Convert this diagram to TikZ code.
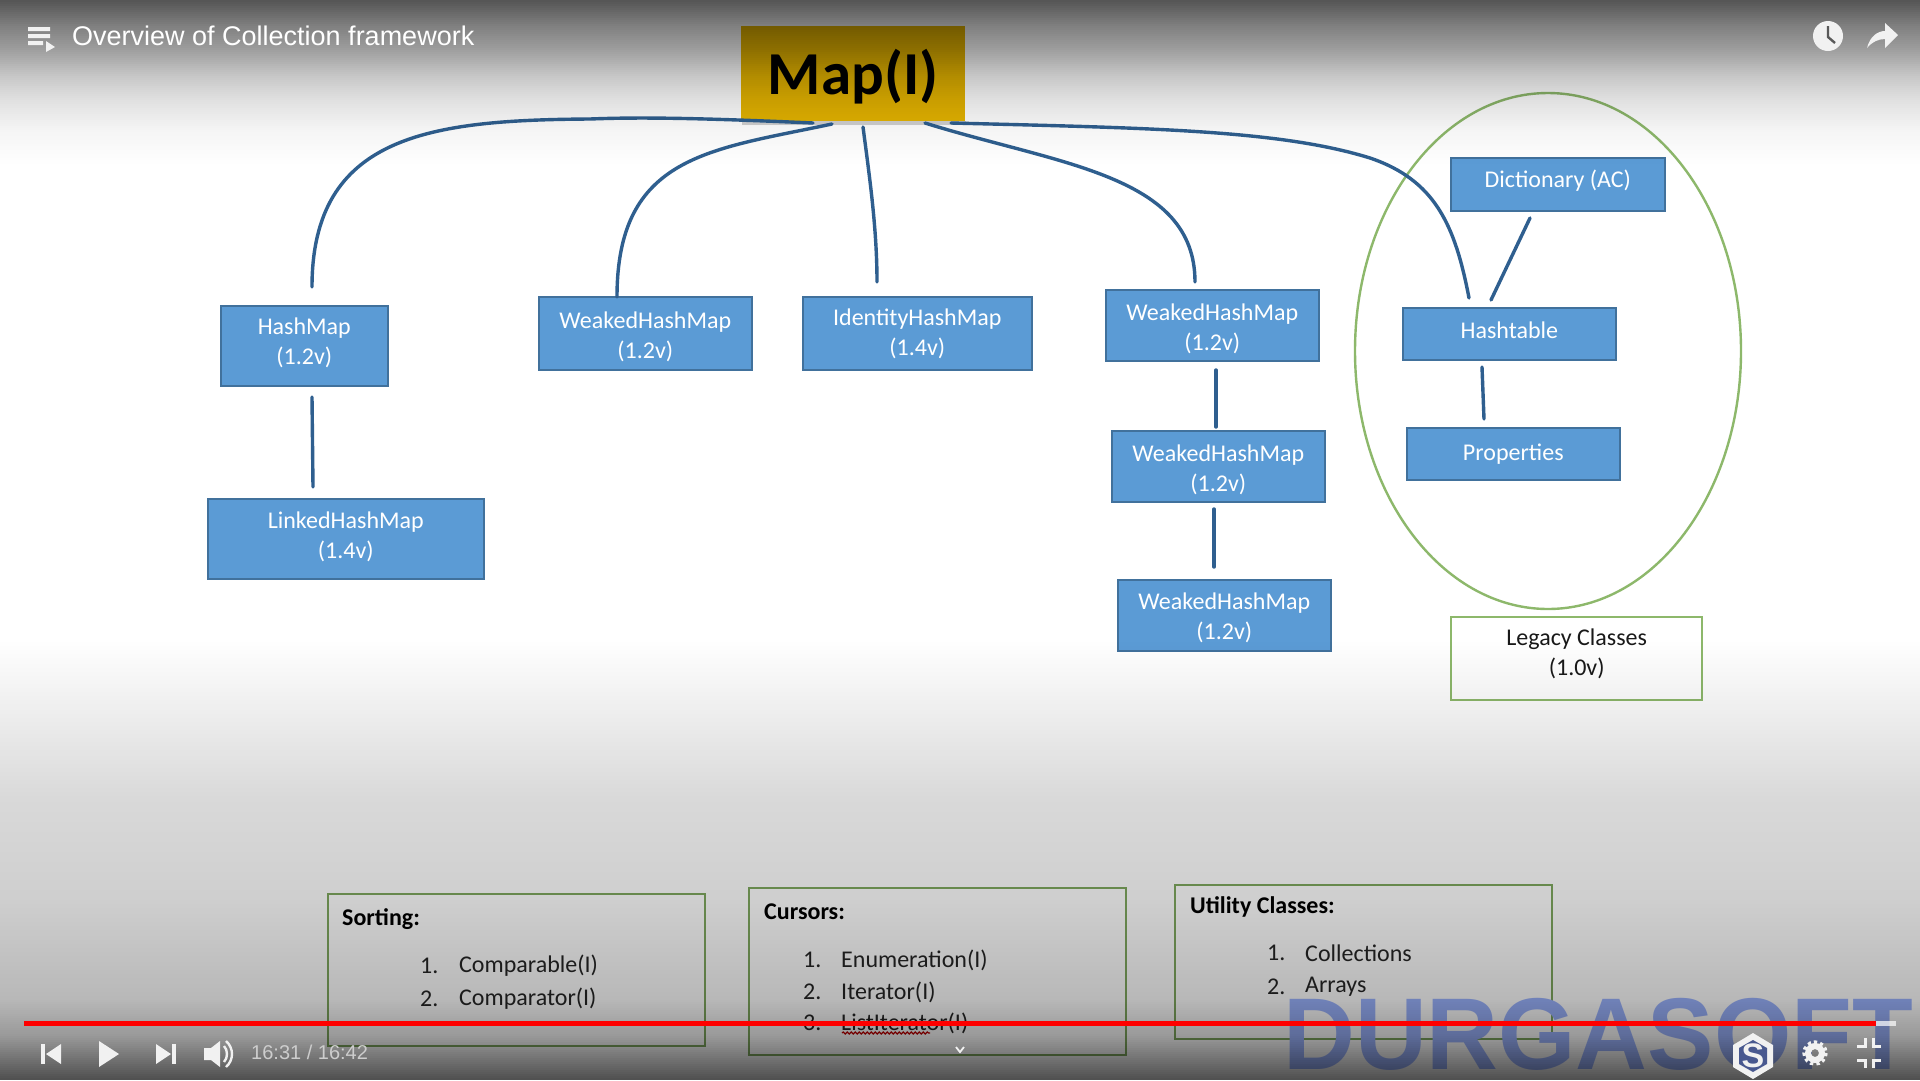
\documentclass[tikz,border=0pt]{standalone}
\usepackage{fontspec}
\setmainfont{Carlito}
\newfontfamily\arialfont{Liberation Sans}
\usetikzlibrary{decorations.pathmorphing}
\definecolor{boxblue}{HTML}{5B9BD5}
\definecolor{boxedge}{HTML}{41719C}
\definecolor{linkblue}{HTML}{2F5F8F}
\definecolor{legacygreen}{HTML}{8DB86B}
\definecolor{panelgreen}{HTML}{7FA85F}
\definecolor{wmblue}{HTML}{9CB4FF}
\definecolor{logoblue}{HTML}{48588F}
\definecolor{iconwhite}{HTML}{F1F1F1}
\definecolor{mapgold}{HTML}{E5B400}
\tikzset{
 blue box/.style={draw=boxedge,line width=1.6pt,fill=boxblue,inner sep=0pt,anchor=north west},
 box text/.style={text=white,align=center,inner sep=0pt,font=\fontsize{24}{30}\selectfont},
 link/.style={draw=linkblue,line width=3.4pt,line cap=round},
 legacy/.style={draw=legacygreen,line width=2.4pt},
 panel/.style={draw=panelgreen,line width=2.4pt,inner sep=0pt,anchor=north west},
 panel text/.style={text=black!85,anchor=west,inner sep=0pt,font=\fontsize{24}{30}\selectfont},
 panel head/.style={text=black,anchor=west,inner sep=0pt,font=\fontsize{24}{30}\selectfont\bfseries},
 ui/.style={fill=iconwhite,draw=none},
 ui line/.style={draw=iconwhite,line width=3pt}
}
\newcommand{\bbox}[7]{\node[blue box,minimum width=#4pt,minimum height=#5pt] (#1) at (#2,#3) {};
 \node[box text,yshift=-#7pt] (#1text) at (#1.center) {#6};}
\newcommand{\ovstrip}[4]{%
 \pgfmathtruncatemacro{\ysec}{#1+2}\pgfmathtruncatemacro{\ylast}{#2-2}%
 \foreach \yy in {#1,\ysec,...,\ylast}{%
  \pgfmathsetmacro{\aop}{#3+(#4-#3)*(\yy+1-#1)/(#2-#1)}%
  \fill[black,fill opacity=\aop] (0,\yy) rectangle (1920,\yy+2);}}
\begin{document}
\begin{tikzpicture}[x=1pt,y=-1pt]
\useasboundingbox (0,0) rectangle (1920,1080);
\fill[white] (0,0) rectangle (1920,1080);
% legacy group
\draw[legacy] (1548,351) ellipse [x radius=193,y radius=258];
% boxes
\bbox{hashmap}{220}{305}{167}{80}{HashMap\\(1.2v)}{-2.5}
\bbox{linked}{207}{498}{276}{80}{LinkedHashMap\\(1.4v)}{-2}
\bbox{weakA}{538}{296}{213}{73}{WeakedHashMap\\(1.2v)}{3.5}
\bbox{identity}{802}{296}{229}{73}{IdentityHashMap\\(1.4v)}{1}
\bbox{weakB}{1105}{289}{213}{71}{WeakedHashMap\\(1.2v)}{3.5}
\bbox{weakC}{1111}{430}{213}{71}{WeakedHashMap\\(1.2v)}{3.5}
\bbox{weakD}{1117}{579}{213}{71}{WeakedHashMap\\(1.2v)}{2.5}
\bbox{dict}{1450}{157}{214}{53}{Dictionary (AC)}{-3.5}
\bbox{hasht}{1402}{307}{213}{52}{Hashtable}{-3.5}
\bbox{props}{1406}{427}{213}{52}{Properties}{0}
\fill[black,opacity=.18] (742,121) rectangle (966,125);
\node[fill=mapgold,anchor=north west,inner sep=0pt,minimum width=224pt,minimum height=95pt] (map) at (741,26) {};
\node[inner sep=0pt,yshift=-2.5pt,font=\fontsize{61}{70}\selectfont\bfseries,text=black] (maptext) at (map.center) {Map(I)};
\node[legacy,anchor=north west,inner sep=0pt,minimum width=251pt,minimum height=83pt] (legacybox) at (1450,616) {};
\node[box text,text=black!90,yshift=5pt] (legacytext) at (legacybox.center) {Legacy Classes\\(1.0v)};
% connector ends
\coordinate (a1) at (813,123); \coordinate (a2) at (312,287);
\coordinate (b1) at (832,124); \coordinate (b2) at (617,297);
\coordinate (c1) at (863,127); \coordinate (c2) at (877,282);
\coordinate (d1) at (925,123); \coordinate (d2) at (1195,282);
\coordinate (e1) at (951,123); \coordinate (e2) at (1469,298);
\coordinate (f1) at (1530,218); \coordinate (f2) at (1491,300);
\coordinate (g1) at (1482,367); \coordinate (g2) at (1484,419);
\coordinate (h1) at (312,397); \coordinate (h2) at (313,487);
\coordinate (i1) at (1216,370); \coordinate (i2) at (1216,427);
\coordinate (j1) at (1214,509); \coordinate (j2) at (1214,567);
\draw[link] (a1) .. controls (700,118) and (640,117) .. (590,119) .. controls (430,120) and (312,135) .. (a2);
\draw[link] (b1) .. controls (710,150) and (617,155) .. (b2);
\draw[link] (c1) .. controls (870,180) and (877,230) .. (c2);
\draw[link] (d1) .. controls (1060,165) and (1195,175) .. (d2);
\draw[link] (e1) .. controls (1150,128) and (1280,130) .. (1370,158) .. controls (1435,180) and (1455,225) .. (e2);
\draw[link] (f1) -- (f2);
\draw[link] (g1) -- (g2);
\draw[link] (h1) -- (h2);
\draw[link] (i1) -- (i2);
\draw[link] (j1) -- (j2);
% bottom panels
\node[panel,minimum width=377pt,minimum height=152pt] (sorting) at (327,893) {};
\node[panel,minimum width=377pt,minimum height=167pt] (cursors) at (748,887) {};
\node[panel,minimum width=377pt,minimum height=154pt] (utility) at (1174,884) {};
\node[panel head] (sh) at (342,919) {Sorting:};
\node[panel text] (s1n) at (420,966) {1.};
\node[panel text] (s1) at (459,966) {Comparable(I)};
\node[panel text] (s2n) at (420,999) {2.};
\node[panel text] (s2) at (459,999) {Comparator(I)};
\node[panel head] (ch) at (764,912) {Cursors:};
\node[panel text] (c1n) at (803,960) {1.};
\node[panel text] (c1t) at (841,960) {Enumeration(I)};
\node[panel text] (c2n) at (803,992) {2.};
\node[panel text] (c2t) at (841,992) {Iterator(I)};
\node[panel text] (c3n) at (803,1023) {3.};
\node[panel text] (c3t) at (841,1023) {ListIterator(I)};
\draw[red!75!black,line width=1.2pt,decorate,decoration={snake,amplitude=1pt,segment length=4pt}] (842,1033) -- (930,1033);
\node[panel head] (uh) at (1190,907) {Utility Classes:};
\node[panel text] (u1n) at (1267,953) {1.};
\node[panel text] (u1) at (1305,953) {Collections};
\node[panel text] (u2n) at (1267,987) {2.};
\node[panel text] (u2) at (1305,987) {Arrays};
% watermark
\node[anchor=west,inner sep=0pt,text=wmblue,xscale=.975,font=\fontsize{102}{102}\selectfont\bfseries\arialfont] (wm) at (1283,1034) {DURGASOFT};
% video overlay gradient, in thin bands
\ovstrip{0}{26}{.67}{.50}
\ovstrip{26}{50}{.50}{.38}
\ovstrip{50}{76}{.38}{.22}
\ovstrip{76}{100}{.22}{.12}
\ovstrip{100}{130}{.12}{.04}
\ovstrip{130}{166}{.04}{0}
\ovstrip{640}{800}{0}{.15}
\ovstrip{800}{900}{.15}{.19}
\ovstrip{900}{1000}{.19}{.28}
\ovstrip{1000}{1036}{.28}{.40}
\ovstrip{1036}{1080}{.40}{.69}
% progress bar
\fill[white,opacity=.7] (1876,1021) rectangle (1896,1026);
\fill[red] (24,1021) rectangle (1876,1026);
% top controls
\node[anchor=west,inner sep=0pt,text=white,font=\fontsize{27}{30}\selectfont\arialfont] (title) at (72,36) {Overview of Collection framework};
\fill[ui] (28,27) rectangle (50,31) (28,34) rectangle (50,38) (28,41) rectangle (43,45);
\fill[ui] (46,41) -- (55,47) -- (46,52) -- cycle;
\fill[ui] (1828,36) circle (15);
\draw[black!65,line width=2.4pt] (1828,26) -- (1828,37) -- (1835,43);
\fill[ui] (1867,48) .. controls (1870,36) and (1878,31) .. (1885,31) -- (1885,23) -- (1898,35) -- (1885,48) -- (1885,39) .. controls (1878,39) and (1872,42) .. (1867,48) -- cycle;
% bottom controls
\fill[ui] (41,1044) rectangle (45,1064);
\fill[ui] (61,1044) -- (61,1064) -- (46,1054) -- cycle;
\fill[ui] (99,1041) -- (119,1054) -- (99,1067) -- cycle;
\fill[ui] (156,1044) -- (171,1054) -- (156,1064) -- cycle;
\fill[ui] (172,1044) rectangle (176,1064);
\fill[ui] (204,1048) -- (211,1048) -- (220,1041) -- (220,1067) -- (211,1060) -- (204,1060) -- cycle;
\draw[ui line,line width=2.4pt] (224,1046) .. controls (228,1050) and (228,1058) .. (224,1062);
\draw[ui line,line width=2.4pt] (226,1041) .. controls (234,1048) and (234,1060) .. (226,1067);
\node[anchor=west,inner sep=0pt,text=iconwhite!85!black,font=\fontsize{20}{24}\selectfont\arialfont] (time) at (251,1052) {16:31 / 16:42};
\draw[iconwhite,line width=1.8pt] (956,1047) -- (960,1052) -- (964,1047);
% logo
\fill[ui] (1753,1033) -- (1773,1045) -- (1773,1067) -- (1753,1079) -- (1733,1067) -- (1733,1045) -- cycle;
\fill[logoblue] (1753,1040) -- (1767,1048) -- (1767,1064) -- (1753,1072) -- (1739,1064) -- (1739,1048) -- cycle;
\node[inner sep=0pt,text=iconwhite,font=\fontsize{34}{34}\selectfont\bfseries\arialfont] (logo) at (1753,1056) {S};
% gear
\draw[iconwhite,line width=3.4pt,dash pattern=on 3.2pt off 3.1pt] (1815,1053) circle (11);
\fill[ui,even odd rule] (1815,1053) circle (10) (1815,1053) circle (4);
% exit fullscreen
\draw[ui line] (1857,1046) -- (1865,1046) -- (1865,1038);
\draw[ui line] (1881,1046) -- (1873,1046) -- (1873,1038);
\draw[ui line] (1857,1060) -- (1865,1060) -- (1865,1068);
\draw[ui line] (1881,1060) -- (1873,1060) -- (1873,1068);
\end{tikzpicture}
\end{document}
